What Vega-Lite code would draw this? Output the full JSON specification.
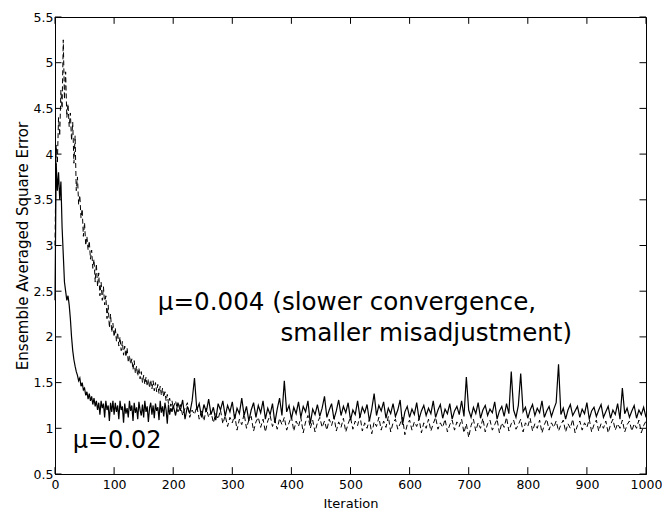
{
  "$schema": "https://vega.github.io/schema/vega-lite/v6.json",
  "width": 591,
  "height": 457,
  "autosize": {"type": "none"},
  "padding": {"left": 55, "top": 17, "right": 16, "bottom": 40},
  "background": "white",
  "config": {
    "view": {"stroke": "black", "strokeWidth": 1},
    "axis": {
      "domainColor": "black",
      "labelColor": "black",
      "titleColor": "black",
      "labelFont": "DejaVu Sans",
      "titleFont": "DejaVu Sans",
      "labelFontSize": 12.5,
      "titleFontSize": 13,
      "titleFontWeight": "normal",
      "grid": false,
      "ticks": false,
      "labelFlush": false,
      "labelOverlap": false
    }
  },
  "datasets": {
    "d": [
      {"i":0,"a":2.4,"b":3.0},{"i":2,"a":3.9,"b":4.1},{"i":4,"a":3.6,"b":3.9},{"i":6,"a":3.8,"b":4.4},{"i":8,"a":3.5,"b":4.2},
      {"i":10,"a":3.7,"b":4.7},{"i":12,"a":3.2,"b":4.5},{"i":14,"a":2.9,"b":5.25},{"i":16,"a":2.6,"b":4.6},{"i":18,"a":2.5,"b":4.9},
      {"i":20,"a":2.4,"b":4.4},{"i":22,"a":2.45,"b":4.55},{"i":24,"a":2.35,"b":4.3},{"i":26,"a":2.2,"b":4.45},{"i":28,"a":2.0,"b":4.15},
      {"i":30,"a":1.85,"b":4.35},{"i":32,"a":1.75,"b":3.9},{"i":34,"a":1.68,"b":4.2},{"i":36,"a":1.62,"b":3.6},{"i":38,"a":1.58,"b":3.75},
      {"i":40,"a":1.52,"b":3.45},{"i":42,"a":1.55,"b":3.55},{"i":44,"a":1.46,"b":3.3},{"i":46,"a":1.5,"b":3.4},{"i":48,"a":1.42,"b":3.1},
      {"i":50,"a":1.44,"b":3.25},{"i":52,"a":1.36,"b":3.0},{"i":54,"a":1.4,"b":3.1},{"i":56,"a":1.32,"b":2.95},{"i":58,"a":1.38,"b":3.05},
      {"i":60,"a":1.3,"b":2.85},{"i":62,"a":1.35,"b":2.95},{"i":64,"a":1.26,"b":2.75},{"i":66,"a":1.33,"b":2.85},{"i":68,"a":1.24,"b":2.6},
      {"i":70,"a":1.3,"b":2.8},{"i":72,"a":1.2,"b":2.55},{"i":74,"a":1.28,"b":2.7},{"i":76,"a":1.15,"b":2.45},{"i":78,"a":1.3,"b":2.6},
      {"i":80,"a":1.22,"b":2.4},{"i":82,"a":1.27,"b":2.55},{"i":84,"a":1.12,"b":2.35},{"i":86,"a":1.3,"b":2.45},{"i":88,"a":1.2,"b":2.2},
      {"i":90,"a":1.25,"b":2.35},{"i":92,"a":1.08,"b":2.1},{"i":94,"a":1.28,"b":2.25},{"i":96,"a":1.18,"b":2.05},{"i":98,"a":1.3,"b":2.15},
      {"i":100,"a":1.15,"b":2.0},{"i":102,"a":1.28,"b":2.1},{"i":104,"a":1.18,"b":1.95},{"i":106,"a":1.25,"b":2.05},{"i":108,"a":1.1,"b":1.9},
      {"i":110,"a":1.3,"b":2.0},{"i":112,"a":1.2,"b":1.85},{"i":114,"a":1.24,"b":1.95},{"i":116,"a":1.06,"b":1.8},{"i":118,"a":1.27,"b":1.9},
      {"i":120,"a":1.16,"b":1.78},{"i":122,"a":1.22,"b":1.88},{"i":124,"a":1.12,"b":1.72},{"i":126,"a":1.3,"b":1.8},{"i":128,"a":1.19,"b":1.7},
      {"i":130,"a":1.25,"b":1.76},{"i":132,"a":1.08,"b":1.64},{"i":134,"a":1.28,"b":1.74},{"i":136,"a":1.17,"b":1.6},{"i":138,"a":1.23,"b":1.68},
      {"i":140,"a":1.1,"b":1.57},{"i":142,"a":1.29,"b":1.66},{"i":144,"a":1.2,"b":1.54},{"i":146,"a":1.14,"b":1.62},{"i":148,"a":1.26,"b":1.5},
      {"i":150,"a":1.12,"b":1.58},{"i":152,"a":1.3,"b":1.48},{"i":154,"a":1.18,"b":1.56},{"i":156,"a":1.24,"b":1.46},{"i":158,"a":1.07,"b":1.54},
      {"i":160,"a":1.22,"b":1.44},{"i":162,"a":1.28,"b":1.53},{"i":164,"a":1.15,"b":1.43},{"i":166,"a":1.25,"b":1.52},{"i":168,"a":1.11,"b":1.41},
      {"i":170,"a":1.27,"b":1.5},{"i":172,"a":1.19,"b":1.4},{"i":174,"a":1.23,"b":1.48},{"i":176,"a":1.09,"b":1.38},{"i":178,"a":1.3,"b":1.46},
      {"i":180,"a":1.17,"b":1.36},{"i":182,"a":1.24,"b":1.44},{"i":184,"a":1.13,"b":1.34},{"i":186,"a":1.28,"b":1.4},{"i":188,"a":1.2,"b":1.3},
      {"i":190,"a":1.05,"b":1.37},{"i":192,"a":1.26,"b":1.27},{"i":194,"a":1.15,"b":1.33},{"i":196,"a":1.22,"b":1.24},{"i":198,"a":1.18,"b":1.3},
      {"i":200,"a":1.25,"b":1.22},{"i":204,"a":1.14,"b":1.3},{"i":208,"a":1.28,"b":1.18},{"i":212,"a":1.19,"b":1.26},{"i":216,"a":1.31,"b":1.14},
      {"i":220,"a":1.1,"b":1.22},{"i":224,"a":1.24,"b":1.28},{"i":228,"a":1.16,"b":1.12},{"i":232,"a":1.3,"b":1.2},{"i":236,"a":1.55,"b":1.15},
      {"i":240,"a":1.2,"b":1.24},{"i":244,"a":1.27,"b":1.1},{"i":248,"a":1.12,"b":1.19},{"i":252,"a":1.26,"b":1.08},{"i":256,"a":1.18,"b":1.22},
      {"i":260,"a":1.32,"b":1.12},{"i":264,"a":1.15,"b":1.18},{"i":268,"a":1.23,"b":1.06},{"i":272,"a":1.09,"b":1.16},{"i":276,"a":1.27,"b":1.1},
      {"i":280,"a":1.2,"b":1.2},{"i":284,"a":1.3,"b":1.05},{"i":288,"a":1.13,"b":1.14},{"i":292,"a":1.25,"b":1.02},{"i":296,"a":1.18,"b":1.12},
      {"i":300,"a":1.29,"b":1.06},{"i":304,"a":1.1,"b":1.15},{"i":308,"a":1.22,"b":0.98},{"i":312,"a":1.16,"b":1.1},{"i":316,"a":1.33,"b":1.04},
      {"i":320,"a":1.14,"b":1.16},{"i":324,"a":1.24,"b":1.0},{"i":328,"a":1.08,"b":1.09},{"i":332,"a":1.2,"b":1.13},{"i":336,"a":1.28,"b":0.97},
      {"i":340,"a":1.12,"b":1.07},{"i":344,"a":1.25,"b":1.12},{"i":348,"a":1.17,"b":1.01},{"i":352,"a":1.3,"b":1.1},{"i":356,"a":1.1,"b":0.96},
      {"i":360,"a":1.22,"b":1.08},{"i":364,"a":1.15,"b":1.14},{"i":368,"a":1.27,"b":1.02},{"i":372,"a":1.06,"b":1.09},{"i":376,"a":1.21,"b":0.99},
      {"i":380,"a":1.33,"b":1.11},{"i":384,"a":1.14,"b":1.04},{"i":388,"a":1.52,"b":1.12},{"i":392,"a":1.18,"b":0.98},{"i":396,"a":1.25,"b":1.06},
      {"i":400,"a":1.1,"b":1.13},{"i":404,"a":1.23,"b":0.97},{"i":408,"a":1.16,"b":1.08},{"i":412,"a":1.29,"b":1.02},{"i":416,"a":1.12,"b":1.12},
      {"i":420,"a":1.24,"b":0.95},{"i":424,"a":1.18,"b":1.07},{"i":428,"a":1.3,"b":1.14},{"i":432,"a":1.05,"b":1.0},{"i":436,"a":1.21,"b":1.09},
      {"i":440,"a":1.15,"b":0.96},{"i":444,"a":1.26,"b":1.06},{"i":448,"a":1.13,"b":1.12},{"i":452,"a":1.22,"b":1.01},{"i":456,"a":1.35,"b":1.08},
      {"i":460,"a":1.12,"b":0.98},{"i":464,"a":1.2,"b":1.1},{"i":468,"a":1.27,"b":1.03},{"i":472,"a":1.1,"b":1.13},{"i":476,"a":1.19,"b":0.97},
      {"i":480,"a":1.31,"b":1.07},{"i":484,"a":1.14,"b":1.01},{"i":488,"a":1.24,"b":1.11},{"i":492,"a":1.17,"b":0.96},{"i":496,"a":1.28,"b":1.05},
      {"i":500,"a":1.09,"b":1.12},{"i":504,"a":1.2,"b":0.99},{"i":508,"a":1.15,"b":1.08},{"i":512,"a":1.3,"b":1.03},{"i":516,"a":1.12,"b":1.14},
      {"i":520,"a":1.23,"b":0.97},{"i":524,"a":1.17,"b":1.06},{"i":528,"a":1.26,"b":1.0},{"i":532,"a":1.08,"b":1.1},{"i":536,"a":1.21,"b":0.94},
      {"i":540,"a":1.38,"b":1.07},{"i":544,"a":1.14,"b":1.02},{"i":548,"a":1.25,"b":1.12},{"i":552,"a":1.19,"b":0.98},{"i":556,"a":1.29,"b":1.08},
      {"i":560,"a":1.11,"b":1.01},{"i":564,"a":1.22,"b":1.13},{"i":568,"a":1.16,"b":0.96},{"i":572,"a":1.27,"b":1.06},{"i":576,"a":1.13,"b":1.1},
      {"i":580,"a":1.2,"b":0.99},{"i":584,"a":1.31,"b":1.05},{"i":588,"a":1.04,"b":1.12},{"i":592,"a":1.18,"b":0.93},{"i":596,"a":1.24,"b":1.04},
      {"i":600,"a":1.12,"b":1.09},{"i":604,"a":1.21,"b":0.98},{"i":608,"a":1.15,"b":1.07},{"i":612,"a":1.28,"b":1.02},{"i":616,"a":1.1,"b":1.11},
      {"i":620,"a":1.19,"b":0.95},{"i":624,"a":1.25,"b":1.06},{"i":628,"a":1.14,"b":1.0},{"i":632,"a":1.22,"b":1.1},{"i":636,"a":1.16,"b":0.97},
      {"i":640,"a":1.3,"b":1.05},{"i":644,"a":1.12,"b":1.12},{"i":648,"a":1.2,"b":0.99},{"i":652,"a":1.26,"b":1.06},{"i":656,"a":1.11,"b":1.01},
      {"i":660,"a":1.21,"b":1.1},{"i":664,"a":1.16,"b":0.96},{"i":668,"a":1.27,"b":1.04},{"i":672,"a":1.1,"b":1.09},{"i":676,"a":1.19,"b":0.98},
      {"i":680,"a":1.24,"b":1.07},{"i":684,"a":1.15,"b":1.02},{"i":688,"a":1.3,"b":1.1},{"i":692,"a":1.13,"b":0.95},{"i":696,"a":1.56,"b":1.05},
      {"i":700,"a":1.2,"b":0.9},{"i":704,"a":1.12,"b":1.03},{"i":708,"a":1.23,"b":1.1},{"i":712,"a":1.16,"b":0.97},{"i":716,"a":1.28,"b":1.06},
      {"i":720,"a":1.11,"b":1.0},{"i":724,"a":1.2,"b":1.11},{"i":728,"a":1.25,"b":0.96},{"i":732,"a":1.14,"b":1.05},{"i":736,"a":1.21,"b":1.09},
      {"i":740,"a":1.17,"b":0.98},{"i":744,"a":1.29,"b":1.04},{"i":748,"a":1.1,"b":1.1},{"i":752,"a":1.19,"b":0.95},{"i":756,"a":1.24,"b":1.06},
      {"i":760,"a":1.13,"b":1.01},{"i":764,"a":1.27,"b":1.12},{"i":768,"a":1.16,"b":0.97},{"i":772,"a":1.62,"b":1.05},{"i":776,"a":1.2,"b":1.09},
      {"i":780,"a":1.12,"b":0.99},{"i":784,"a":1.25,"b":1.04},{"i":788,"a":1.6,"b":1.1},{"i":792,"a":1.18,"b":0.96},{"i":796,"a":1.23,"b":1.06},
      {"i":800,"a":1.11,"b":1.02},{"i":804,"a":1.2,"b":1.11},{"i":808,"a":1.26,"b":0.97},{"i":812,"a":1.14,"b":1.05},{"i":816,"a":1.22,"b":1.0},
      {"i":820,"a":1.17,"b":1.09},{"i":824,"a":1.3,"b":0.95},{"i":828,"a":1.12,"b":1.04},{"i":832,"a":1.19,"b":1.1},{"i":836,"a":1.24,"b":0.98},
      {"i":840,"a":1.13,"b":1.06},{"i":844,"a":1.21,"b":1.01},{"i":848,"a":1.28,"b":1.08},{"i":852,"a":1.7,"b":0.97},{"i":856,"a":1.15,"b":1.04},
      {"i":860,"a":1.22,"b":1.09},{"i":864,"a":1.1,"b":0.96},{"i":868,"a":1.2,"b":1.05},{"i":872,"a":1.26,"b":1.0},{"i":876,"a":1.14,"b":1.1},
      {"i":880,"a":1.19,"b":0.95},{"i":884,"a":1.24,"b":1.03},{"i":888,"a":1.12,"b":1.08},{"i":892,"a":1.21,"b":0.98},{"i":896,"a":1.16,"b":1.06},
      {"i":900,"a":1.28,"b":1.01},{"i":904,"a":1.1,"b":1.1},{"i":908,"a":1.19,"b":0.96},{"i":912,"a":1.23,"b":1.04},{"i":916,"a":1.13,"b":1.09},
      {"i":920,"a":1.2,"b":0.97},{"i":924,"a":1.26,"b":1.05},{"i":928,"a":1.12,"b":1.0},{"i":932,"a":1.18,"b":1.08},{"i":936,"a":1.24,"b":0.95},
      {"i":940,"a":1.11,"b":1.04},{"i":944,"a":1.2,"b":1.1},{"i":948,"a":1.15,"b":0.98},{"i":952,"a":1.27,"b":1.05},{"i":956,"a":1.1,"b":1.0},
      {"i":960,"a":1.44,"b":1.09},{"i":964,"a":1.16,"b":0.96},{"i":968,"a":1.22,"b":1.04},{"i":972,"a":1.12,"b":1.08},{"i":976,"a":1.19,"b":0.97},
      {"i":980,"a":1.25,"b":1.05},{"i":984,"a":1.11,"b":1.0},{"i":988,"a":1.2,"b":1.09},{"i":992,"a":1.15,"b":0.95},{"i":996,"a":1.23,"b":1.03},
      {"i":1000,"a":1.12,"b":1.08}
    ],
    "one": [{}],
    "xt": [{"v":0},{"v":100},{"v":200},{"v":300},{"v":400},{"v":500},{"v":600},{"v":700},{"v":800},{"v":900},{"v":1000}],
    "yt": [{"v":0.5},{"v":1},{"v":1.5},{"v":2},{"v":2.5},{"v":3},{"v":3.5},{"v":4},{"v":4.5},{"v":5},{"v":5.5}]
  },
  "resolve": {"axis": {"x": "independent", "y": "independent"}},
  "layer": [
    {
      "data": {"name": "d"},
      "mark": {"type": "line", "color": "black", "strokeWidth": 1, "strokeDash": [5, 3]},
      "encoding": {
        "x": {"field": "i", "type": "quantitative", "scale": {"domain": [0, 1000], "nice": false, "zero": false}, "axis": null},
        "y": {"field": "b", "type": "quantitative", "scale": {"domain": [0.5, 5.5], "nice": false, "zero": false}, "axis": null}
      }
    },
    {
      "data": {"name": "d"},
      "mark": {"type": "line", "color": "black", "strokeWidth": 1.2},
      "encoding": {
        "x": {"field": "i", "type": "quantitative",
              "scale": {"domain": [0, 1000], "nice": false, "zero": false},
              "axis": {"orient": "bottom", "title": "Iteration", "values": [0,100,200,300,400,500,600,700,800,900,1000], "labelExpr": "datum.value + ''", "labelPadding": 4, "titlePadding": 7}},
        "y": {"field": "a", "type": "quantitative",
              "scale": {"domain": [0.5, 5.5], "nice": false, "zero": false},
              "axis": {"orient": "left", "title": "Ensemble Averaged Square Error", "titleFontSize": 15, "values": [0.5,1,1.5,2,2.5,3,3.5,4,4.5,5,5.5], "labelExpr": "datum.value + ''", "labelPadding": 2, "titlePadding": 3}}
      }
    },
    {
      "data": {"name": "xt"},
      "mark": {"type": "rule", "color": "black", "strokeWidth": 1},
      "encoding": {
        "x": {"field": "v", "type": "quantitative", "scale": {"domain": [0, 1000], "nice": false, "zero": false}, "axis": null},
        "y": {"datum": 0.5, "type": "quantitative", "scale": {"domain": [0.5, 5.5], "nice": false, "zero": false}, "axis": null},
        "y2": {"datum": 0.575}
      }
    },
    {
      "data": {"name": "xt"},
      "mark": {"type": "rule", "color": "black", "strokeWidth": 1},
      "encoding": {
        "x": {"field": "v", "type": "quantitative", "scale": {"domain": [0, 1000], "nice": false, "zero": false}, "axis": null},
        "y": {"datum": 5.5, "type": "quantitative", "scale": {"domain": [0.5, 5.5], "nice": false, "zero": false}, "axis": null},
        "y2": {"datum": 5.425}
      }
    },
    {
      "data": {"name": "yt"},
      "mark": {"type": "rule", "color": "black", "strokeWidth": 1},
      "encoding": {
        "y": {"field": "v", "type": "quantitative", "scale": {"domain": [0.5, 5.5], "nice": false, "zero": false}, "axis": null},
        "x": {"datum": 0, "type": "quantitative", "scale": {"domain": [0, 1000], "nice": false, "zero": false}, "axis": null},
        "x2": {"datum": 11}
      }
    },
    {
      "data": {"name": "yt"},
      "mark": {"type": "rule", "color": "black", "strokeWidth": 1},
      "encoding": {
        "y": {"field": "v", "type": "quantitative", "scale": {"domain": [0.5, 5.5], "nice": false, "zero": false}, "axis": null},
        "x": {"datum": 1000, "type": "quantitative", "scale": {"domain": [0, 1000], "nice": false, "zero": false}, "axis": null},
        "x2": {"datum": 989}
      }
    },
    {
      "data": {"name": "one"},
      "mark": {"type": "text", "text": "μ=0.004 (slower convergence,", "font": "DejaVu Sans", "fontSize": 24.6, "align": "left", "baseline": "alphabetic", "color": "black"},
      "encoding": {
        "x": {"datum": 174, "type": "quantitative", "scale": {"domain": [0, 1000], "nice": false, "zero": false}, "axis": null},
        "y": {"datum": 2.29, "type": "quantitative", "scale": {"domain": [0.5, 5.5], "nice": false, "zero": false}, "axis": null}
      }
    },
    {
      "data": {"name": "one"},
      "mark": {"type": "text", "text": "smaller misadjustment)", "font": "DejaVu Sans", "fontSize": 24.6, "align": "right", "baseline": "alphabetic", "color": "black"},
      "encoding": {
        "x": {"datum": 875, "type": "quantitative", "scale": {"domain": [0, 1000], "nice": false, "zero": false}, "axis": null},
        "y": {"datum": 1.95, "type": "quantitative", "scale": {"domain": [0.5, 5.5], "nice": false, "zero": false}, "axis": null}
      }
    },
    {
      "data": {"name": "one"},
      "mark": {"type": "text", "text": "μ=0.02", "font": "DejaVu Sans", "fontSize": 24, "align": "left", "baseline": "alphabetic", "color": "black"},
      "encoding": {
        "x": {"datum": 30, "type": "quantitative", "scale": {"domain": [0, 1000], "nice": false, "zero": false}, "axis": null},
        "y": {"datum": 0.78, "type": "quantitative", "scale": {"domain": [0.5, 5.5], "nice": false, "zero": false}, "axis": null}
      }
    }
  ]
}
